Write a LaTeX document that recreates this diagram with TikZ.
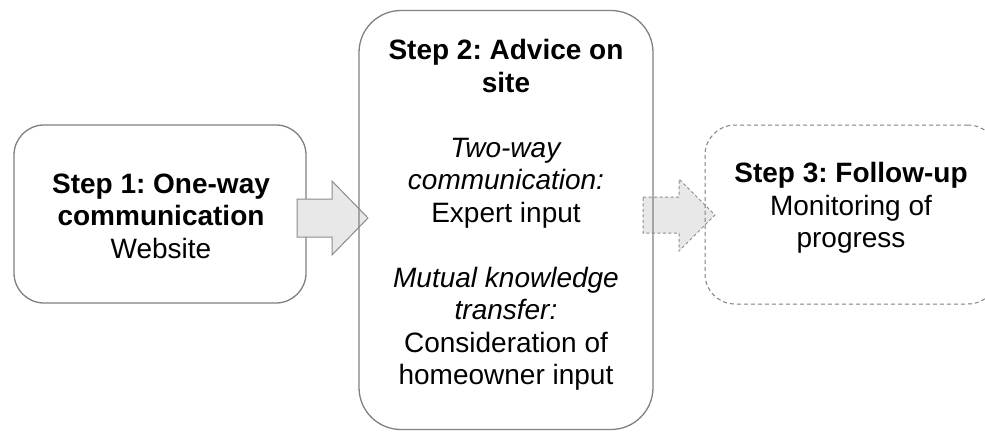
\documentclass[tikz,border=0pt]{standalone}
\usepackage{fontspec}
\setmainfont{Liberation Sans}
\frenchspacing
\definecolor{edgegray}{RGB}{128,128,128}
\definecolor{arrowfill}{RGB}{232,232,232}
\definecolor{arrowedge}{RGB}{140,140,140}
\begin{document}
\begin{tikzpicture}[x=1pt,y=-1pt,
  stepbox/.style={draw=edgegray, line width=1.3pt, inner sep=0pt, outer sep=0pt},
  steptext/.style={align=center, inner sep=0pt, font=\fontsize{28}{32.5}\selectfont\frenchspacing},
  blockarrow/.style={fill=arrowfill, draw=arrowedge, line width=1pt, line join=miter}]
\useasboundingbox (0,0) rectangle (985,431);
\node[stepbox, fill=white, rounded corners=30pt, minimum width=292pt, minimum height=178pt] (b1) at (160,214) {};
\node[steptext] (t1) at (161,216) {\textbf{Step 1: One-way}\\\textbf{communication}\\Website};
\draw[blockarrow] (297,199) -- (332,199) -- (332,181) -- (368,218) -- (332,255) -- (332,237) -- (297,237) -- cycle;
\draw[blockarrow, dash pattern=on 3pt off 2.5pt] (643,197) -- (679,197) -- (679,179) -- (715,215) -- (679,251) -- (679,233) -- (643,233) -- cycle;
\node[stepbox, rounded corners=42pt, minimum width=294pt, minimum height=419pt] (b2) at (506,220) {};
\node[steptext] (t2) at (506,215) {\textbf{Step 2: Advice on}\\\textbf{site}\\[32.5pt]\textit{Two-way}\\\textit{communication:}\\Expert input\\[32.5pt]\textit{Mutual knowledge}\\\textit{transfer:}\\Consideration of\\homeowner input};
\node[stepbox, line width=1pt, dash pattern=on 4pt off 3pt, rounded corners=30pt, minimum width=293pt, minimum height=179pt] (b3) at (851.5,214.5) {};
\node[steptext] (t3) at (851,208) {\textbf{Step 3: Follow-up}\\Monitoring of\\progress};
\end{tikzpicture}
\end{document}
